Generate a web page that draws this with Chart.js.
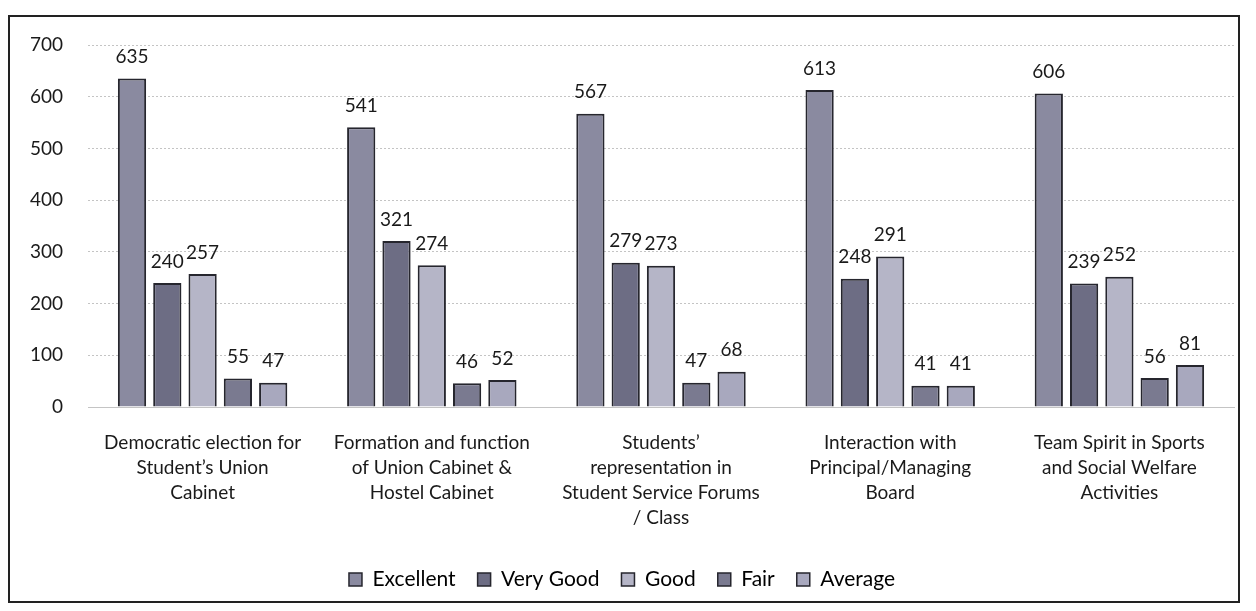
<!DOCTYPE html>
<html>
<head>
<meta charset="utf-8">
<script src="https://cdn.jsdelivr.net/npm/chart.js@4.4.0/dist/chart.umd.min.js"></script>
<style>
  body { margin: 0; background: #fff; }
  #caja {
    position: absolute; left: 8px; top: 15px;
    width: 1232px; height: 588px;
    border: 2px solid #222; box-sizing: border-box;
  }
</style>
</head>
<body>
<div id="caja"><canvas id="grafico"></canvas></div>
<script>
// datos
const categorias = [
  ["Democratic election for", "Student\u2019s Union", "Cabinet"],
  ["Formation and function", "of Union Cabinet &", "Hostel Cabinet"],
  ["Students\u2019", "representation in", "Student Service Forums", "/ Class"],
  ["Interaction with", "Principal/Managing", "Board"],
  ["Team Spirit in Sports", "and Social Welfare", "Activities"]
];
const series = ["Excellent", "Very Good", "Good", "Fair", "Average"];
const excelente = [635, 541, 567, 613, 606];
const muyBueno = [240, 321, 279, 248, 239];
const bueno = [257, 274, 273, 291, 252];
const regular = [55, 46, 47, 41, 56];
const promedio = [47, 52, 68, 41, 81];
const colores = ["#8a8aa0", "#6d6d84", "#b5b5c7", "#7a7a90", "#a8a8be"];

const fuente = "Lato, 'Open Sans', sans-serif";

// etiquetas arriba de cada barra
const etiquetas = {
  id: "etiquetas",
  afterDatasetsDraw(chart) {
    const ctx = chart.ctx;
    ctx.save();
    ctx.font = "19px " + fuente;
    ctx.fillStyle = "#1a1a1a";
    ctx.textAlign = "center";
    ctx.textBaseline = "bottom";
    chart.data.datasets.forEach((ds, i) => {
      chart.getDatasetMeta(i).data.forEach((bar, j) => {
        ctx.fillText(ds.data[j], bar.x, bar.y - 12);
      });
    });
    ctx.restore();
  }
};

const valores = [excelente, muyBueno, bueno, regular, promedio];

new Chart(document.getElementById("grafico"), {
  type: "bar",
  data: {
    labels: categorias,
    datasets: series.map((s, i) => ({
      label: s,
      data: valores[i],
      backgroundColor: colores[i],
      borderColor: "#26262e",
      borderWidth: 2,
      borderSkipped: "bottom",
      categoryPercentage: 0.77,
      barPercentage: 0.8
    }))
  },
  options: {
    responsive: true,
    maintainAspectRatio: false,
    animation: false,
    layout: { padding: { left: 0, right: 4, top: 28, bottom: 1 } },
    scales: {
      y: {
        min: 0, max: 700,
        ticks: { stepSize: 100, color: "#1a1a1a", font: { family: fuente, size: 19 }, padding: 25 },
        grid: { color: "#c4c4c4", drawTicks: false, lineWidth: 1 },
        border: { display: false, dash: [2, 2] },
        afterFit(scale) { scale.width = 78; scale.paddingTop = 0; }
      },
      x: {
        ticks: { color: "#1a1a1a", font: { family: fuente, size: 19, lineHeight: 1.32 }, maxRotation: 0, autoSkip: false, padding: 15 },
        grid: { display: false },
        border: { color: "#c4c4c4", dash: [2, 2] },
        afterFit(scale) { scale.height = 140; }
      }
    },
    plugins: {
      legend: {
        position: "bottom",
        labels: {
          color: "#1a1a1a",
          font: { family: fuente, size: 21 },
          boxWidth: 13, boxHeight: 13, padding: 22,
          generateLabels(chart) {
            return chart.data.datasets.map((ds, i) => ({
              text: ds.label, fillStyle: ds.backgroundColor,
              strokeStyle: "#26262e", lineWidth: 1.5, datasetIndex: i
            }));
          }
        }
      },
      tooltip: { enabled: false }
    }
  },
  plugins: [etiquetas]
});
</script>
</body>
</html>
